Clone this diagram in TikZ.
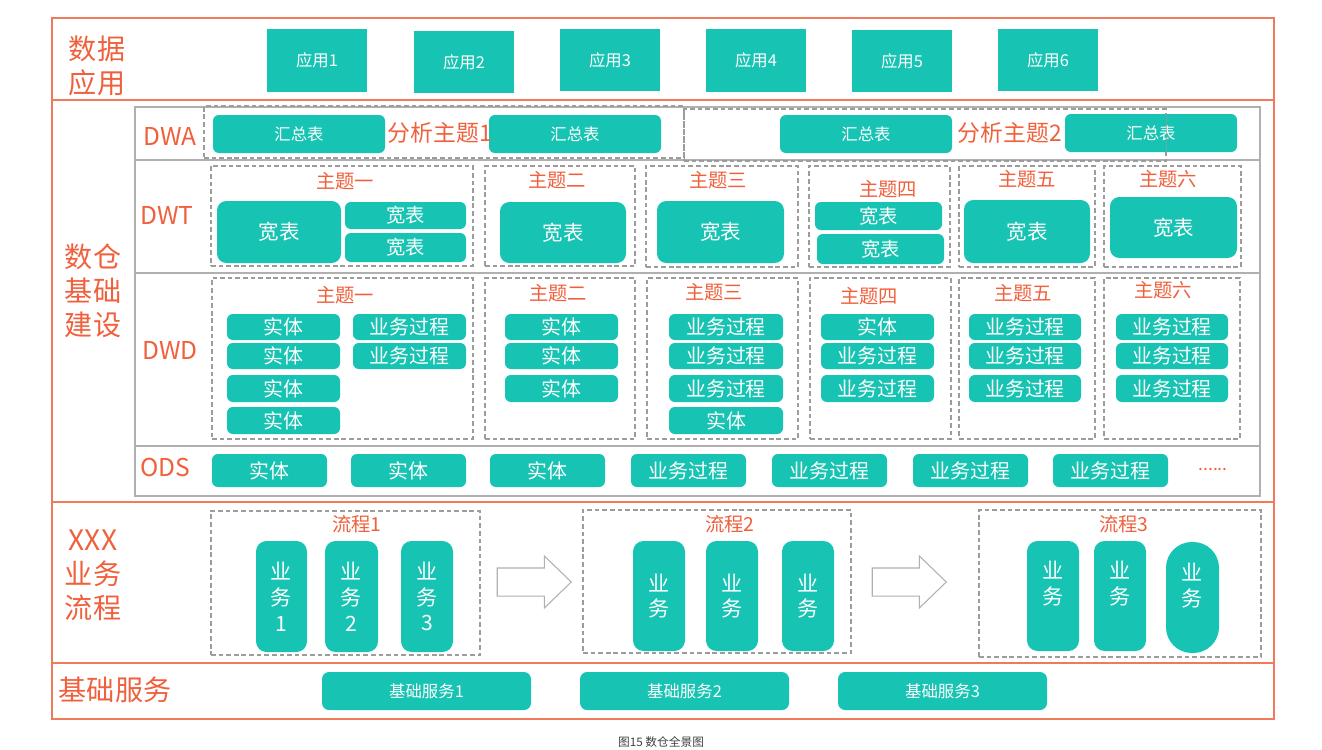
\documentclass[tikz,border=0pt]{standalone}
\usepackage{fontspec}
\setmainfont{Noto Sans CJK SC}
\usetikzlibrary{shapes.arrows}

\definecolor{tealfill}{HTML}{17C3B2}
\definecolor{frameorange}{HTML}{F07A5C}
\definecolor{textorange}{HTML}{F0603C}
\definecolor{linegray}{HTML}{B0B0B0}
\definecolor{dashgray}{HTML}{9C9C9C}

\tikzset{
	box at/.style args={(#1,#2)(#3,#4)}{at={({(#1+#3)/2},{(#2+#4)/2})},
		minimum width={(#3-#1)*0.03cm}, minimum height={(#4-#2)*0.03cm}},
	orangebox/.style={draw=frameorange, line width=1.6pt, inner sep=0pt},
	graybox/.style={draw=linegray, line width=1.4pt, inner sep=0pt},
	dashbox/.style={draw=dashgray, dash pattern=on 4pt off 2.5pt, line width=0.9pt, inner sep=0pt},
	tile/.style={fill=tealfill, text=white, inner sep=0pt},
	app/.style={tile, font=\fontsize{14}{16}\selectfont},
	sumtab/.style={tile, rounded corners=5pt, font=\fontsize{14}{16}\selectfont},
	widetab/.style={tile, rounded corners=8pt, font=\fontsize{17.5}{20}\selectfont},
	smalltab/.style={tile, rounded corners=5pt, font=\fontsize{16.5}{20}\selectfont},
	item/.style={tile, rounded corners=5pt, font=\fontsize{17}{20}\selectfont},
	pill/.style={tile, rounded corners=9pt, align=center, font=\fontsize{18}{22}\selectfont},
	service/.style={tile, rounded corners=6pt, font=\fontsize{14}{16}\selectfont},
	layer/.style={text=textorange, align=center, font=\fontsize{24}{29}\selectfont},
	dwlayer/.style={text=textorange, font=\fontsize{21}{24}\selectfont},
	theme/.style={text=textorange, font=\fontsize{16.5}{20}\selectfont},
	subject/.style={text=textorange, inner sep=0pt, font=\fontsize{19.5}{22}\selectfont},
	flowarrow/.style={single arrow, draw=linegray, fill=white, line width=0.9pt,
		inner sep=0.405cm, minimum height=2.22cm, minimum width=1.53cm,
		single arrow head extend=0.36cm, single arrow tip angle=88},
}

\begin{document}
\begin{tikzpicture}[x=0.03cm,y=-0.03cm]
	\useasboundingbox (0,0) rectangle (1322,749);

	% outer rows
	\node[orangebox, box at={(52,18)(1274,100)}] (rowapp) {};
	\node[orangebox, box at={(52,100)(1274,502)}] (rowdw) {};
	\node[orangebox, box at={(52,502)(1274,663)}] (rowflow) {};
	\node[orangebox, box at={(52,663)(1274,719)}] (rowbase) {};

	\node[layer] (lblapp) at (97,66) {数据\\应用};
	\node[layer] (lbldw) at (93,291) {数仓\\基础\\建设};
	\node[layer] (lblflow) at (93,575) {XXX\\业务\\流程};
	\node[layer] (lblbase) at (115,690) {基础服务};

	% data applications
	\node[app, box at={(267,29)(367,92)}] (app1) {应用1};
	\node[app, box at={(414,31)(514,93)}] (app2) {应用2};
	\node[app, box at={(560,29)(660,91)}] (app3) {应用3};
	\node[app, box at={(706,29)(806,92)}] (app4) {应用4};
	\node[app, box at={(852,30)(952,92)}] (app5) {应用5};
	\node[app, box at={(998,29)(1098,91)}] (app6) {应用6};

	% warehouse layers
	\node[graybox, box at={(135,107)(1260,160)}] (dwa) {};
	\node[graybox, box at={(135,160)(1260,273)}] (dwt) {};
	\node[graybox, box at={(135,273)(1260,446)}] (dwd) {};
	\node[graybox, box at={(135,446)(1260,496)}] (ods) {};

	\node[dwlayer] (lbldwa) at (170,136) {DWA};
	\node[dwlayer] (lbldwt) at (167,215) {DWT};
	\node[dwlayer] (lbldwd) at (170,350) {DWD};
	\node[dwlayer] (lblods) at (165,467) {ODS};

	% DWA
	\node[dashbox, box at={(204,106)(684,158)}] (dwa1) {};
	\node[dashbox, box at={(684,109)(1166,161)}] (dwa2) {};
	\node[sumtab, box at={(213,115)(385,153)}] (sum1) {汇总表};
	\node[sumtab, box at={(489,115)(661,153)}] (sum2) {汇总表};
	\node[sumtab, box at={(780,115)(952,153)}] (sum3) {汇总表};
	\node[sumtab, box at={(1065,114)(1237,152)}] (sum4) {汇总表};
	\node[subject] (sub1) at (440,133) {分析主题1};
	\node[subject] (sub2) at (1010,133) {分析主题2};
	\draw[dashgray, line width=0.6pt, opacity=0.6] (sum4.north -| dwa2.east) -- (sum4.south -| dwa2.east);

	% DWT
	\node[dashbox, box at={(211,166)(473,266)}] (t1) {};
	\node[dashbox, box at={(485,166)(635,266)}] (t2) {};
	\node[dashbox, box at={(646,166)(798,267)}] (t3) {};
	\node[dashbox, box at={(809,166)(950,267)}] (t4) {};
	\node[dashbox, box at={(959,166)(1095,267)}] (t5) {};
	\node[dashbox, box at={(1104,166)(1241,267)}] (t6) {};
	\node[theme] (t1title) at (345,181) {主题一};
	\node[theme] (t2title) at (557,180) {主题二};
	\node[theme] (t3title) at (718,180) {主题三};
	\node[theme] (t4title) at (888,189) {主题四};
	\node[theme] (t5title) at (1027,179) {主题五};
	\node[theme] (t6title) at (1168,179) {主题六};
	\node[widetab, box at={(217,201)(341,263)}] (t1a) {宽表};
	\node[smalltab, box at={(345,202)(466,229)}] (t1b) {宽表};
	\node[smalltab, box at={(345,233)(466,262)}] (t1c) {宽表};
	\node[widetab, box at={(500,202)(626,263)}] (t2a) {宽表};
	\node[widetab, box at={(657,201)(784,263)}] (t3a) {宽表};
	\node[smalltab, box at={(815,202)(942,230)}] (t4a) {宽表};
	\node[smalltab, box at={(817,234)(944,264)}] (t4b) {宽表};
	\node[widetab, box at={(964,200)(1090,263)}] (t5a) {宽表};
	\node[widetab, box at={(1110,197)(1237,258)}] (t6a) {宽表};

	% DWD
	\node[dashbox, box at={(212,278)(473,439)}] (d1) {};
	\node[dashbox, box at={(485,278)(635,439)}] (d2) {};
	\node[dashbox, box at={(647,278)(798,439)}] (d3) {};
	\node[dashbox, box at={(810,278)(951,439)}] (d4) {};
	\node[dashbox, box at={(959,278)(1095,439)}] (d5) {};
	\node[dashbox, box at={(1104,278)(1240,439)}] (d6) {};
	\node[theme] (d1title) at (345,295) {主题一};
	\node[theme] (d2title) at (558,293) {主题二};
	\node[theme] (d3title) at (714,292) {主题三};
	\node[theme] (d4title) at (869,296) {主题四};
	\node[theme] (d5title) at (1023,293) {主题五};
	\node[theme] (d6title) at (1163,290) {主题六};

	\foreach \i/\ya/\yb in {1/314/340,2/343/369,3/375/402,4/407/434}
		\node[item, box at={(227,\ya)(340,\yb)}] (d1e\i) {实体};
	\foreach \i/\ya/\yb in {1/314/340,2/343/369}
		\node[item, box at={(353,\ya)(466,\yb)}] (d1p\i) {业务过程};
	\foreach \i/\ya/\yb in {1/314/340,2/343/369,3/375/402}
		\node[item, box at={(505,\ya)(618,\yb)}] (d2e\i) {实体};
	\foreach \i/\ya/\yb in {1/314/340,2/343/369,3/375/402}
		\node[item, box at={(669,\ya)(783,\yb)}] (d3p\i) {业务过程};
	\node[item, box at={(669,407)(783,434)}] (d3e1) {实体};
	\node[item, box at={(821,314)(934,340)}] (d4e1) {实体};
	\foreach \i/\ya/\yb in {2/343/369,3/375/402}
		\node[item, box at={(821,\ya)(934,\yb)}] (d4p\i) {业务过程};
	\foreach \i/\ya/\yb in {1/314/340,2/343/369,3/375/402}
		\node[item, box at={(969,\ya)(1081,\yb)}] (d5p\i) {业务过程};
	\foreach \i/\ya/\yb in {1/314/340,2/343/369,3/375/402}
		\node[item, box at={(1116,\ya)(1228,\yb)}] (d6p\i) {业务过程};

	% ODS
	\node[item, box at={(212,454)(327,487)}] (o1) {实体};
	\node[item, box at={(351,454)(466,487)}] (o2) {实体};
	\node[item, box at={(490,454)(605,487)}] (o3) {实体};
	\node[item, box at={(631,454)(746,487)}] (o4) {业务过程};
	\node[item, box at={(772,454)(887,487)}] (o5) {业务过程};
	\node[item, box at={(913,454)(1028,487)}] (o6) {业务过程};
	\node[item, box at={(1053,454)(1168,487)}] (o7) {业务过程};
	\node[text=textorange, font=\fontsize{15}{17}\selectfont] (odsmore) at (1213,469) {......};

	% business flow
	\node[dashbox, box at={(211,511)(480,655)}] (p1) {};
	\node[dashbox, box at={(583,510)(851,653)}] (p2) {};
	\node[dashbox, box at={(979,510)(1261,657)}] (p3) {};
	\node[theme] (p1title) at (357,524) {流程1};
	\node[theme] (p2title) at (730,524) {流程2};
	\node[theme] (p3title) at (1124,524) {流程3};

	\node[pill, box at={(256,541)(307,652)}] (b11) {业\\务\\1};
	\node[pill, box at={(325,541)(378,652)}] (b12) {业\\务\\2};
	\node[pill, box at={(401,541)(453,652)}] (b13) {业\\务\\3};
	\node[pill, box at={(633,541)(685,651)}] (b21) {业\\务};
	\node[pill, box at={(706,541)(758,651)}] (b22) {业\\务};
	\node[pill, box at={(782,541)(834,651)}] (b23) {业\\务};
	\node[pill, box at={(1027,541)(1079,651)}] (b31) {业\\务\\\phantom{1}};
	\node[pill, box at={(1094,541)(1146,651)}] (b32) {业\\务\\\phantom{1}};
	\node[pill, rounded corners=22pt, box at={(1166,542)(1219,653)}] (b33) {业\\务\\\phantom{1}};

	\node[flowarrow] (arr1) at (527,582) {};
	\node[flowarrow] (arr2) at (902,582) {};

	% basic services
	\node[service, box at={(322,672)(531,710)}] (svc1) {基础服务1};
	\node[service, box at={(580,672)(789,710)}] (svc2) {基础服务2};
	\node[service, box at={(838,672)(1047,710)}] (svc3) {基础服务3};

	\node[text=black!75, font=\fontsize{10}{12}\selectfont] (caption) at (661,742) {图15\ 数仓全景图};
\end{tikzpicture}
\end{document}
